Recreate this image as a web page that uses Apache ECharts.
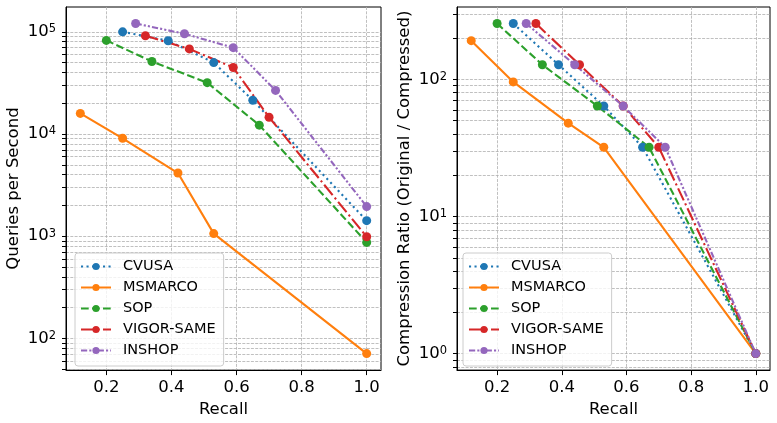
<!DOCTYPE html>
<html lang="en">
<head>
<meta charset="UTF-8">
<title>Recall trade-off</title>
<script src="https://cdn.jsdelivr.net/npm/echarts@6/dist/echarts.min.js"></script>
<style>
  html, body { margin: 0; padding: 0; background: #fff; }
  #main { width: 777px; height: 423px; }
</style>
</head>
<body>
<div id="main"></div>
<script>
var names = ['CVUSA', 'MSMARCO', 'SOP', 'VIGOR-SAME', 'INSHOP'];
var colors = ['#1f77b4', '#ff7f0e', '#2ca02c', '#d62728', '#9467bd'];

// recall per dataset (x in both panels)
var recallCVUSA = [0.25, 0.39, 0.53, 0.65, 1.0];
var recallMSMARCO = [0.12, 0.25, 0.42, 0.53, 1.0];
var recallSOP = [0.20, 0.34, 0.51, 0.67, 1.0];
var recallVIGOR = [0.32, 0.455, 0.59, 0.70, 1.0];
var recallINSHOP = [0.29, 0.44, 0.59, 0.72, 1.0];

// queries per second (left panel)
var qpsCVUSA = [100000, 81800, 50000, 21400, 1420];
var qpsMSMARCO = [15900, 9080, 4150, 1060, 71];
var qpsSOP = [82400, 51200, 31800, 12200, 869];
var qpsVIGOR = [91500, 68000, 44700, 14600, 987];
var qpsINSHOP = [120600, 95700, 70000, 26700, 1950];

// compression ratio (right panel)
var ratioCVUSA = [256, 128, 64, 32, 1];
var ratioMSMARCO = [192, 96, 48, 32, 1];
var ratioSOP = [256, 128, 64, 32, 1];
var ratioVIGOR = [256, 128, 64, 32, 1];
var ratioINSHOP = [256, 128, 64, 32, 1];

var xTicks = [0.2, 0.4, 0.6, 0.8, 1.0];
var qpsTicks = [100, 1000, 10000, 100000];
var ratioTicks = [1, 10, 100];

var recalls = [recallCVUSA, recallMSMARCO, recallSOP, recallVIGOR, recallINSHOP];
var qps = [qpsCVUSA, qpsMSMARCO, qpsSOP, qpsVIGOR, qpsINSHOP];
var ratios = [ratioCVUSA, ratioMSMARCO, ratioSOP, ratioVIGOR, ratioINSHOP];
// ':' '-' '--' '-.' and dash-dot-dot
var dashes = [[2.1, 3.4], 'solid', [7.7, 3.3], [13.3, 3.3, 2.1, 3.3], [6.2, 2.1, 2.1, 2.1, 2.1, 2.1]];

var FONT = 'DejaVu Sans';
var AX = 16.5;

// matplotlib style 5% margins
function linRange(arrs) {
  var lo = Infinity, hi = -Infinity;
  arrs.forEach(function (a) { a.forEach(function (v) { lo = Math.min(lo, v); hi = Math.max(hi, v); }); });
  var m = (hi - lo) * 0.05;
  return [lo - m, hi + m];
}
function logRange(arrs) {
  var lo = Infinity, hi = -Infinity;
  arrs.forEach(function (a) { a.forEach(function (v) { var l = Math.log10(v); lo = Math.min(lo, l); hi = Math.max(hi, l); }); });
  var m = (hi - lo) * 0.05;
  return [Math.pow(10, lo - m), Math.pow(10, hi + m)];
}
// ticks at 1..9 x 10^n inside the range (major + minor grid)
function logMinor(r) {
  var out = [];
  for (var e = Math.floor(Math.log10(r[0])); e <= Math.ceil(Math.log10(r[1])); e++) {
    for (var k = 1; k < 10; k++) {
      var v = k * Math.pow(10, e);
      if (v >= r[0] && v <= r[1]) out.push(v);
    }
  }
  return out;
}

var xr = linRange(recalls);
var qr = logRange(qps);
var rr = logRange(ratios);

var gridLine = { show: true, lineStyle: { color: '#b0b0b0', width: 0.8, type: [3, 1.3] } };

function xAxisOf(idx) {
  return {
    type: 'value', gridIndex: idx, min: xr[0], max: xr[1],
    name: 'Recall', nameLocation: 'middle', nameGap: 29,
    nameTextStyle: { fontFamily: FONT, fontSize: AX, color: '#000' },
    axisLine: { show: true, lineStyle: { color: '#000', width: 1 } },
    axisTick: { show: true, length: 5, customValues: xTicks, lineStyle: { color: '#000' } },
    axisLabel: { customValues: xTicks, margin: 9, fontFamily: FONT, fontSize: AX, color: '#000',
      formatter: function (v) { return v.toFixed(1); } },
    splitLine: gridLine
  };
}
function yAxisOf(idx, range, ticks, name) {
  return {
    type: 'log', logBase: 10, gridIndex: idx, min: range[0], max: range[1],
    name: name, nameLocation: 'middle', nameGap: 44,
    nameTextStyle: { fontFamily: FONT, fontSize: AX, color: '#000' },
    axisLine: { show: true, lineStyle: { color: '#000', width: 1 } },
    axisTick: { show: true, length: 4, customValues: logMinor(range), lineStyle: { color: '#000' } },
    axisLabel: {
      customValues: ticks, margin: 10,
      formatter: function (v) { return '{b|10}{s|' + Math.round(Math.log10(v)) + '}'; },
      rich: {
        b: { fontFamily: FONT, fontSize: AX, color: '#000' },
        s: { fontFamily: FONT, fontSize: 11.5, color: '#000', verticalAlign: 'top' }
      }
    },
    splitLine: gridLine
  };
}

function legendAt(left) {
  return {
    orient: 'vertical', left: left, top: 253, data: names,
    itemWidth: 30, itemHeight: 9, itemGap: 6,
    textStyle: { fontFamily: FONT, fontSize: 14.5, color: '#000', padding: [0, 0, 0, 7] },
    backgroundColor: 'rgba(255,255,255,0.8)', borderColor: '#cccccc', borderWidth: 1, borderRadius: 3,
    padding: [6, 8, 8, 5], selectedMode: false
  };
}

var series = [];
[0, 1].forEach(function (panel) {
  names.forEach(function (n, i) {
    var ys = panel === 0 ? qps[i] : ratios[i];
    series.push({
      name: n, type: 'line', xAxisIndex: panel, yAxisIndex: panel,
      data: recalls[i].map(function (x, j) { return [x, ys[j]]; }),
      symbol: 'circle', symbolSize: 9, showSymbol: true,
      itemStyle: { color: colors[i] },
      lineStyle: { color: colors[i], width: 2.1, type: dashes[i], cap: 'butt' },
      emphasis: { disabled: true }
    });
  });
});

var myChart = echarts.init(document.getElementById('main'), null, { renderer: 'canvas' });
var option = {
  animation: false,
  textStyle: { fontFamily: FONT },
  grid: [
    { left: 66, right: 396, top: 7, bottom: 51, show: true, borderColor: '#000', borderWidth: 1 },
    { left: 457, right: 7, top: 7, bottom: 51, show: true, borderColor: '#000', borderWidth: 1 }
  ],
  xAxis: [xAxisOf(0), xAxisOf(1)],
  yAxis: [
    yAxisOf(0, qr, qpsTicks, 'Queries per Second'),
    yAxisOf(1, rr, ratioTicks, 'Compression Ratio (Original / Compressed)')
  ],
  legend: [legendAt(75), legendAt(463)],
  series: series
};
myChart.setOption(option);
</script>
</body>
</html>
